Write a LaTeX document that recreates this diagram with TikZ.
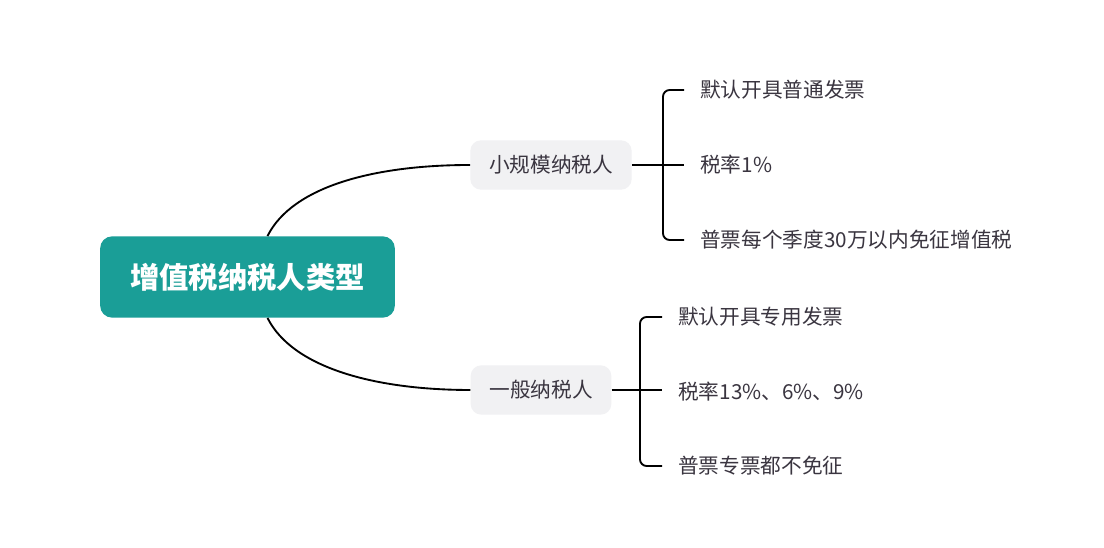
\documentclass[tikz,border=0pt]{standalone}
\usepackage{fontspec}
\setmainfont{Noto Sans CJK SC}
\usepackage{tikz}

\definecolor{teal}{HTML}{1A9E97}
\definecolor{boxgrey}{HTML}{F1F1F3}
\definecolor{ink}{HTML}{3A3540}

\begin{document}
\begin{tikzpicture}[x=0.75pt,y=0.75pt,
  rootbox/.style={fill=teal, rounded corners=9pt, minimum width=221pt, minimum height=61pt,
    text=white, font=\fontsize{22}{26}\selectfont\bfseries},
  kindbox/.style={fill=boxgrey, rounded corners=8pt, minimum height=37pt, inner xsep=14pt,
    text=ink, font=\fontsize{15.5}{18}\selectfont},
  leaf/.style={anchor=west, inner sep=0pt, text=ink, font=\fontsize{15.5}{18}\selectfont},
  link/.style={black, line width=1.4pt}]
\useasboundingbox [fill=white] (0,0) rectangle (1104,548);
\node [rootbox] (root) at (247.5,271) {增值税纳税人类型};
\node [kindbox] (small) at (551,383) {小规模纳税人};
\node [kindbox] (general) at (541,158) {一般纳税人};
\node [leaf] (s1) at (700,458) {默认开具普通发票};
\node [leaf] (s2) at (700,383) {税率1\%};
\node [leaf] (s3) at (700,308) {普票每个季度30万以内免征增值税};
\node [leaf] (g1) at (678,231) {默认开具专用发票};
\node [leaf] (g2) at (678,156) {税率13\%、6\%、9\%};
\node [leaf] (g3) at (678,82) {普票专票都不免征};
\coordinate (sb) at (663,383);
\coordinate (gb) at (640,158);
\draw [link] ([xshift=15pt]root.north) .. controls +(25,50) and +(-95,0) .. (small.west);
\draw [link] ([xshift=15pt]root.south) .. controls +(25,-50) and +(-95,0) .. (general.west);
\draw [link] (small.east) -- ([xshift=-12pt]s2.west);
\draw [link, rounded corners=5pt] ([xshift=-12pt]s1.west) -| (sb) |- ([xshift=-12pt]s3.west);
\draw [link] (general.east) -- ([xshift=-12pt]general.east -| g2.west);
\draw [link, rounded corners=5pt] ([xshift=-12pt]g1.west) -| (gb) |- ([xshift=-12pt]g3.west);
\end{tikzpicture}
\end{document}
